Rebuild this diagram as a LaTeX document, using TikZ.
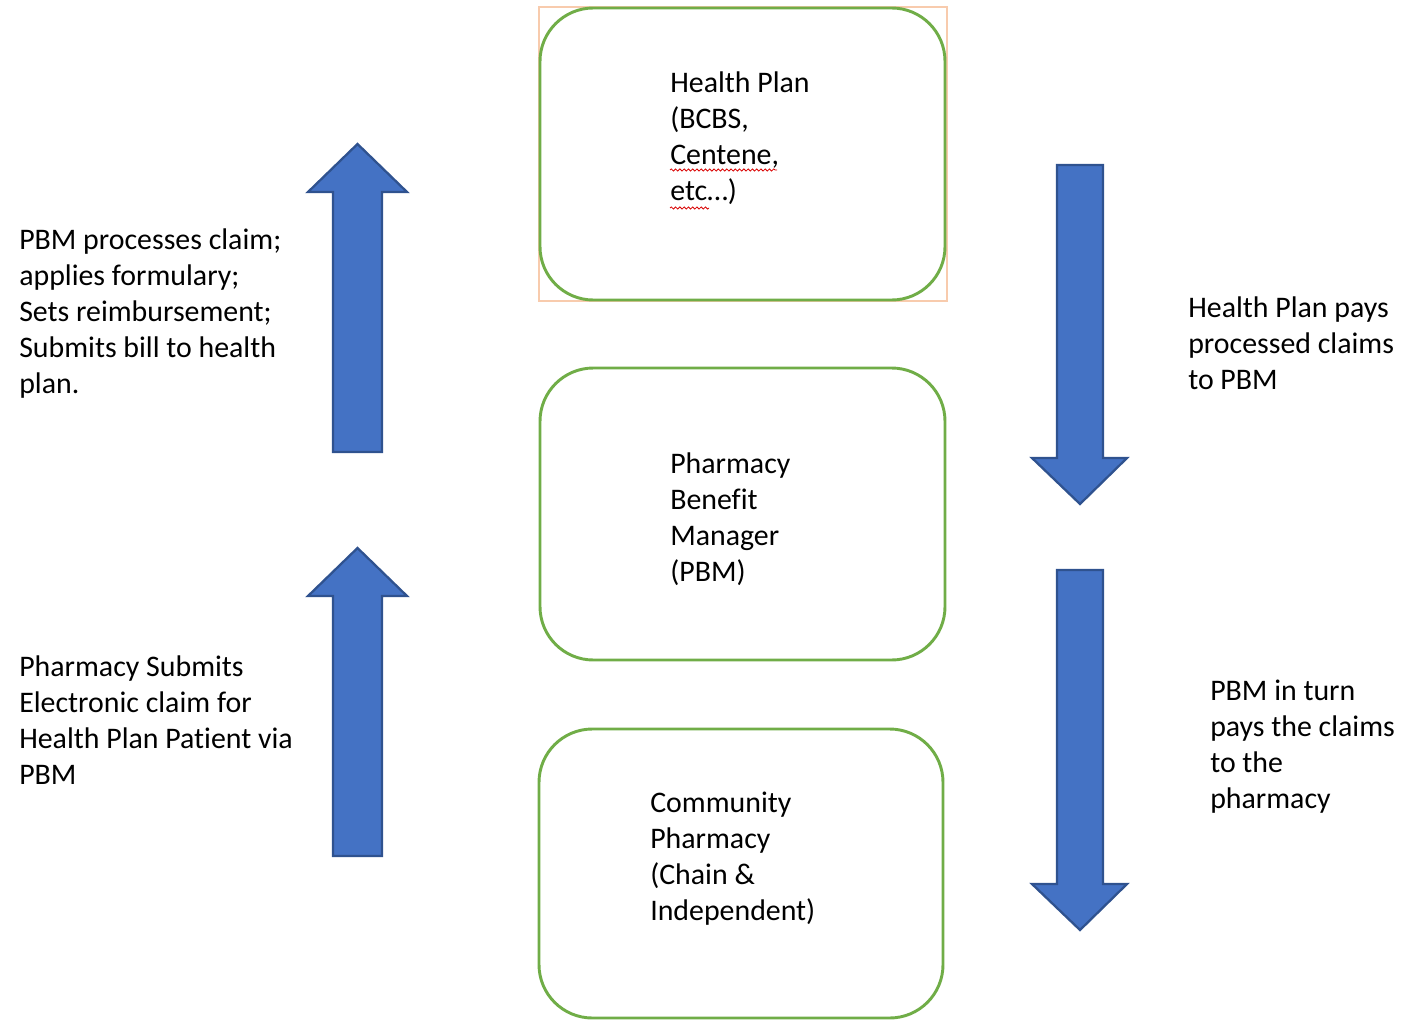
\documentclass[tikz,border=0pt]{standalone}
\usepackage{fontspec}
\setmainfont{Carlito}[Ligatures=NoCommon]
\usetikzlibrary{decorations.pathmorphing}
\definecolor{boxgreen}{HTML}{70AD47}
\definecolor{arrowblue}{HTML}{4472C4}
\definecolor{arrowedge}{HTML}{2F528F}
\definecolor{framepeach}{HTML}{F8CBAD}
\begin{document}
\begin{tikzpicture}[x=0.75pt, y=-0.75pt,
    box/.style={draw=boxgreen, line width=2.2pt, rounded corners=40pt, fill=white},
    label/.style={anchor=north west, inner sep=0pt, align=left, font=\fontsize{22.4}{27}\selectfont},
    blockarrow/.style={fill=arrowblue, draw=arrowedge, line width=1.7pt, line join=miter},
    squiggle/.style={draw=red!85!black, line width=0.6pt, decorate, decoration={snake, amplitude=0.8pt, segment length=3.2pt}}]
            \useasboundingbox (0,0) rectangle (1401,1020);

            % boxes
            \draw[framepeach, line width=0.8pt] (539,7) rectangle (947,301);
            \node[box, minimum width=303.75pt, minimum height=219pt] (hp) at (742.5,154) {};
            \node[box, minimum width=303.75pt, minimum height=219pt] (pbm) at (742.5,514) {};
            \node[box, minimum width=303pt, minimum height=216.75pt] (cp) at (741,873.5) {};

            % box texts
            \node[label] (hptext) at (670,66.8) {\strut Health Plan\\(BCBS,\\Centene,\\etc\ldots)};
            \node[label] (pbmtext) at (670,447.8) {\strut Pharmacy\\Benefit\\Manager\\(PBM)};
            \node[label] (cptext) at (650,786.8) {\strut Community\\Pharmacy\\(Chain \&\\Independent)};

            % spelling marks
            \draw[squiggle] (670,170) -- (777,170);
            \draw[squiggle] (670,208) -- (709,208);

            % up arrows
            \draw[blockarrow] (333,452) -- (333,192) -- (308,192) -- (357.5,144) -- (407,192) -- (382,192) -- (382,452) -- cycle;
            \draw[blockarrow] (333,856) -- (333,596) -- (308,596) -- (357.5,548) -- (407,596) -- (382,596) -- (382,856) -- cycle;

            % down arrows
            \draw[blockarrow] (1057,165) -- (1103,165) -- (1103,458) -- (1127,458) -- (1080,504) -- (1032,458) -- (1057,458) -- cycle;
            \draw[blockarrow] (1057,570) -- (1103,570) -- (1103,884) -- (1127,884) -- (1080,930) -- (1032,884) -- (1057,884) -- cycle;

            % side texts
            \node[label] (process) at (19,223.8) {\strut PBM processes claim;\\applies formulary;\\Sets reimbursement;\\Submits bill to health\\plan.};
            \node[label] (submit) at (19,650.8) {\strut Pharmacy Submits\\Electronic claim for\\Health Plan Patient via\\PBM};
            \node[label] (pays) at (1188,291.8) {\strut Health Plan pays\\processed claims\\to PBM};
            \node[label] (payback) at (1210,674.8) {\strut PBM in turn\\pays the claims\\to the\\pharmacy};
        \end{tikzpicture}
\end{document}
